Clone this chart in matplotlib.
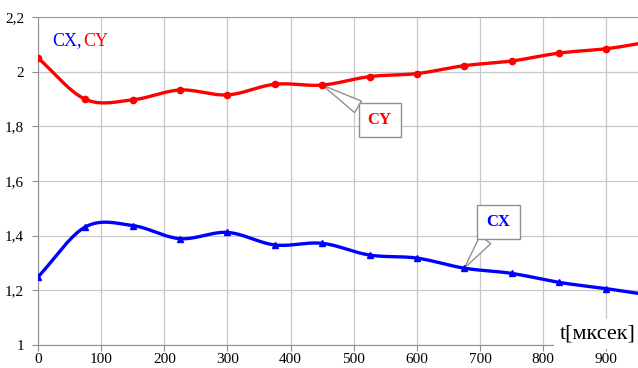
import numpy as np
import matplotlib.pyplot as plt

# values
t = [0, 75, 150, 225, 300, 375, 450, 525, 600, 675, 750, 825, 900, 950]
cy = [2.05, 1.899, 1.897, 1.933, 1.915, 1.954, 1.951, 1.982, 1.993, 2.022, 2.039, 2.068, 2.084, 2.102]
cx = [1.249, 1.432, 1.437, 1.389, 1.412, 1.366, 1.372, 1.329, 1.318, 1.281, 1.262, 1.229, 1.206, 1.189]
xticks = [0, 100, 200, 300, 400, 500, 600, 700, 800, 900]
yticks = [1.0, 1.2, 1.4, 1.6, 1.8, 2.0, 2.2]
ytick_labels = ["1", "1,2", "1,4", "1,6", "1,8", "2", "2,2"]


def smooth(x, y, n=20):
    # Excel-like smoothed line (Catmull-Rom through the data points)
    x = np.asarray(x, float)
    y = np.asarray(y, float)
    px = np.concatenate([[2 * x[0] - x[1]], x, [2 * x[-1] - x[-2]]])
    py = np.concatenate([[2 * y[0] - y[1]], y, [2 * y[-1] - y[-2]]])
    xs, ys = [], []
    s = np.linspace(0, 1, n, endpoint=False)
    for i in range(1, len(px) - 2):
        for p, out in ((px, xs), (py, ys)):
            p0, p1, p2, p3 = p[i - 1], p[i], p[i + 1], p[i + 2]
            out.extend(0.5 * (2 * p1 + (-p0 + p2) * s
                              + (2 * p0 - 5 * p1 + 4 * p2 - p3) * s ** 2
                              + (-p0 + 3 * p1 - 3 * p2 + p3) * s ** 3))
    xs.append(x[-1])
    ys.append(y[-1])
    return xs, ys


plt.rcParams["font.family"] = "Liberation Serif"
fig = plt.figure(figsize=(6.38, 3.68), dpi=100)
ax = fig.add_axes([0.0596, 0.0625, 0.9404, 0.8913])

red = "#ff0000"
blue = "#0000ff"
for vals, col, mk in ((cy, red, "o"), (cx, blue, "^")):
    sx, sy = smooth(t, vals)
    ax.plot(sx, sy, color=col, lw=2.4, zorder=3)
    ax.plot(t[:-1], vals[:-1], ls="none", marker=mk, ms=4.5, color=col, zorder=4)

ax.set_xlim(0, 950)
ax.set_ylim(1, 2.2)
ax.set_xticks(xticks)
ax.set_yticks(yticks)
ax.set_yticklabels(ytick_labels)
ax.grid(True, color="#c8c8c8", lw=0.9)
ax.set_axisbelow(True)
ax.spines["right"].set_visible(False)
ax.spines["top"].set_color("#e08080")
ax.spines["left"].set_color("#909090")
ax.spines["bottom"].set_color("#909090")
ax.tick_params(colors="#909090", labelcolor="black", labelsize=11, length=4)
ax.tick_params(axis="y", pad=6)
ax.tick_params(axis="x", pad=1.5)

ax.text(22, 2.112, "CX,", color=blue, fontsize=13, va="center")
ax.text(71, 2.112, "CY", color=red, fontsize=13, va="center")

wedge = dict(arrowstyle="wedge,tail_width=0.8,shrink_factor=0.5",
             fc="white", ec="#909090", shrinkA=0, shrinkB=0)
ax.annotate("CY", xy=(450, cy[6]), xytext=(541, 1.823), color=red, fontsize=12,
            fontweight="bold", ha="center", va="center",
            bbox=dict(boxstyle="square,pad=0.55", fc="white", ec="#909090"),
            arrowprops=wedge)
ax.annotate("CX", xy=(675, cx[9]), xytext=(729, 1.45), color=blue, fontsize=12,
            fontweight="bold", ha="center", va="center",
            bbox=dict(boxstyle="square,pad=0.55", fc="white", ec="#909090"),
            arrowprops=wedge)

ax.text(946, 1.04, "t[мксек]", fontsize=16, ha="right", va="center", zorder=5,
        bbox=dict(boxstyle="square,pad=0.25", fc="white", ec="none"))

fig.savefig("out.png", dpi=100)
